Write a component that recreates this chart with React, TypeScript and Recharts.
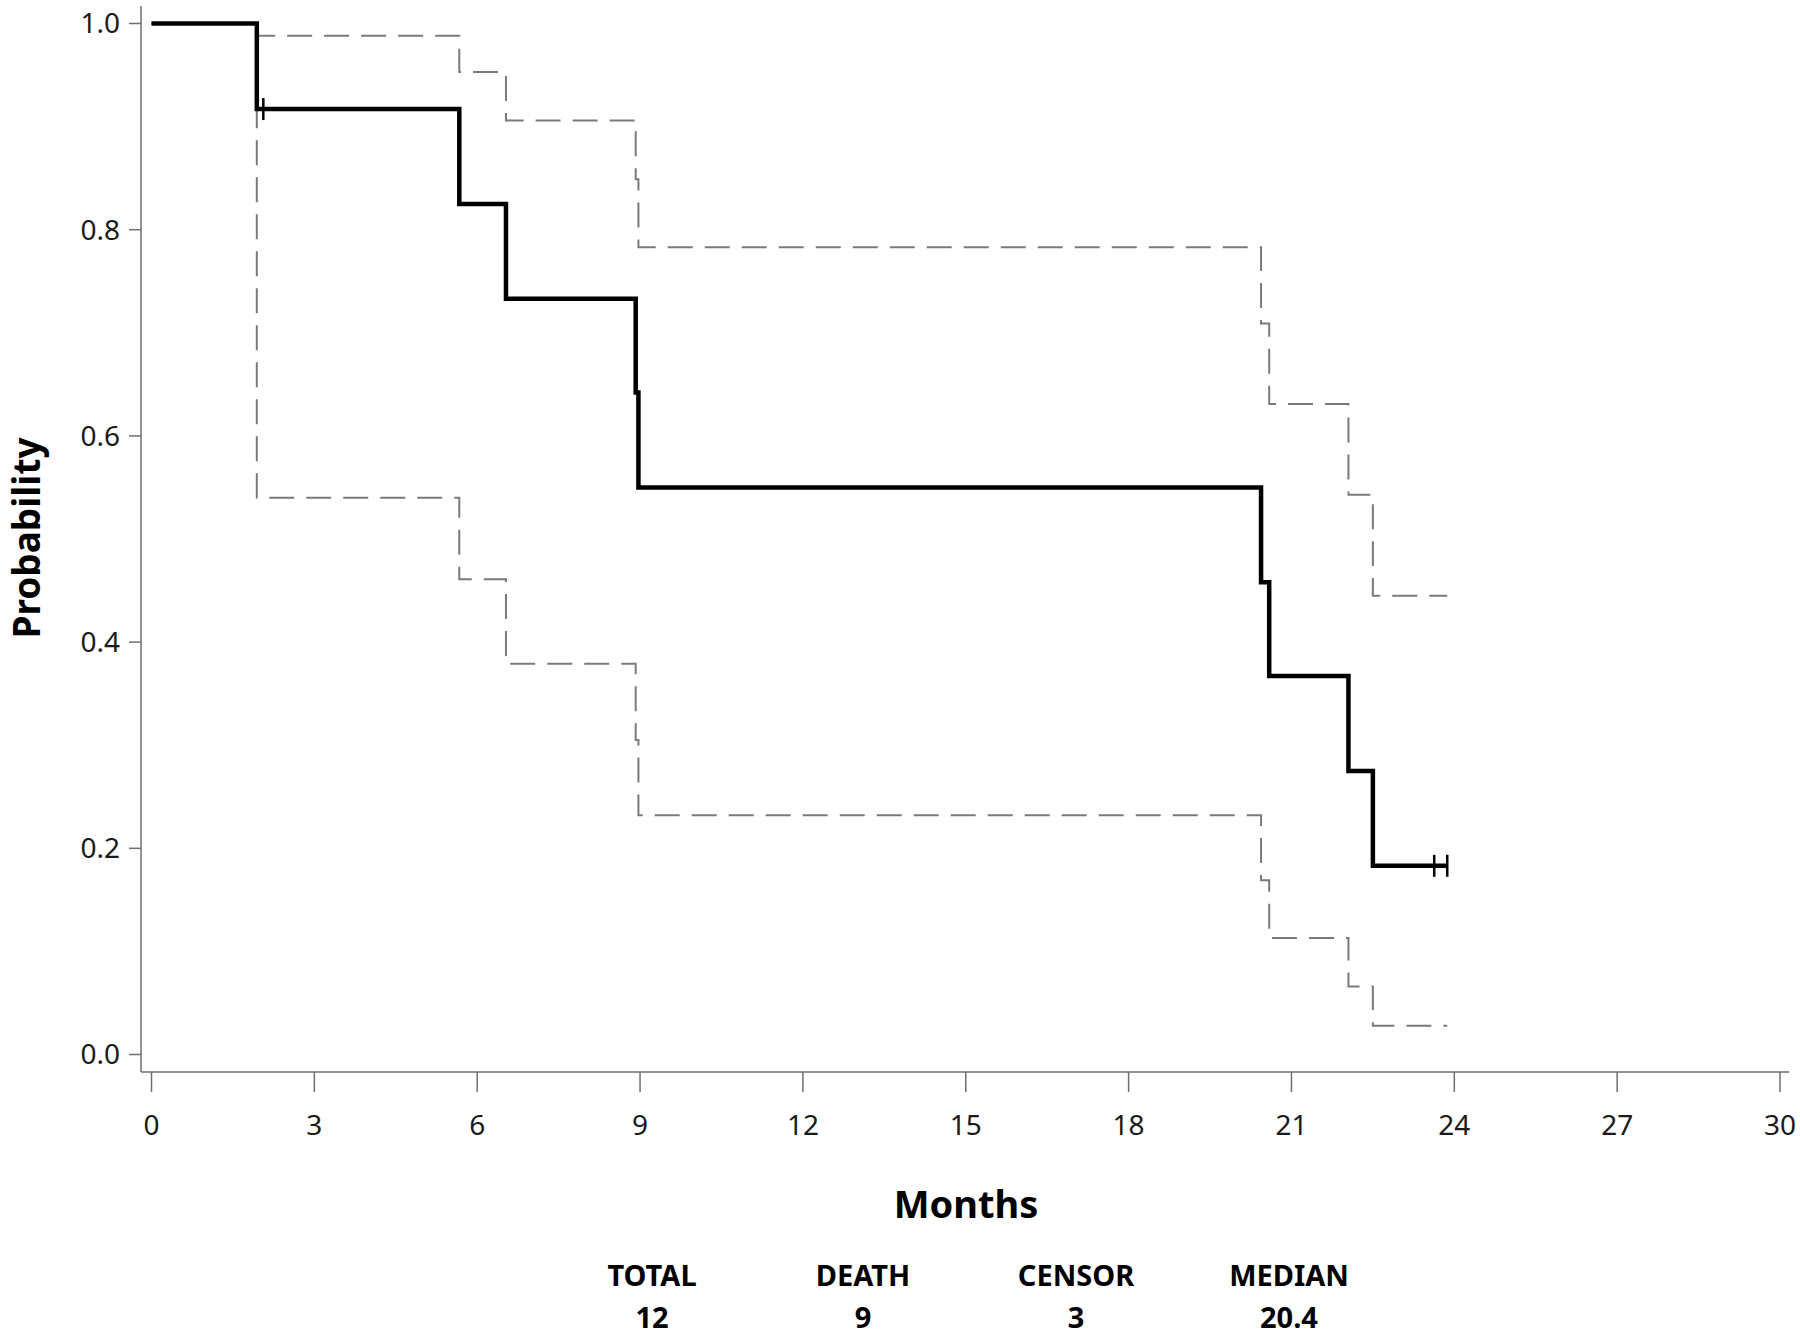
import React from "react";
import {
  ComposedChart,
  Line,
  Scatter,
  XAxis,
  YAxis,
} from "recharts";

// Kaplan-Meier step points (months) with survival and pointwise CI
const eventMonths = [0, 1.94, 5.67, 6.53, 8.92, 8.97, 20.44, 20.59, 22.05, 22.5, 23.87];
const survival = [1, 0.917, 0.825, 0.733, 0.642, 0.55, 0.458, 0.367, 0.275, 0.183, 0.183];
const upperCI = [1, 0.988, 0.953, 0.906, 0.849, 0.783, 0.709, 0.631, 0.543, 0.445, 0.445];
const lowerCI = [1, 0.54, 0.461, 0.379, 0.305, 0.232, 0.169, 0.113, 0.066, 0.028, 0.028];

// censored observations
const censorMonths = [2.06, 23.63, 23.87];
const censorSurvival = [0.917, 0.183, 0.183];

const xTicks = [0, 3, 6, 9, 12, 15, 18, 21, 24, 27, 30];
const yTicks = [0, 0.2, 0.4, 0.6, 0.8, 1.0];

const statLabels = ["TOTAL", "DEATH", "CENSOR", "MEDIAN"];
const statValues = ["12", "9", "3", "20.4"];

const FONT = "'Noto Sans', 'Open Sans', sans-serif";
const AXIS = "#6f6f6f";

const kmRows = eventMonths.map((t, i) => ({ t, s: survival[i] }));
const upperRows = eventMonths.map((t, i) => ({ t, s: upperCI[i] }));
const lowerRows = eventMonths.map((t, i) => ({ t, s: lowerCI[i] }));
const censorRows = censorMonths.map((t, i) => ({ t, s: censorSurvival[i] }));

function CensorMark(props: any) {
  const { cx, cy } = props;
  if (cx == null || cy == null) return null;
  return (
    <line x1={cx} y1={cy - 11} x2={cx} y2={cy + 11} stroke="#000" strokeWidth={2.5} />
  );
}

const tickStyle = { fontSize: 28, fill: "#1a1a1a", fontFamily: FONT };

export default function App() {
  const statX = [652, 863, 1076, 1289];
  return (
    <div
      style={{
        position: "absolute",
        left: 0,
        top: 0,
        width: 1800,
        height: 1335,
        background: "#fff",
        fontFamily: FONT,
      }}
    >
      <ComposedChart
        width={1800}
        height={1335}
        margin={{ top: 6, right: 11, bottom: 0, left: 0 }}
      >
        <XAxis
          type="number"
          dataKey="t"
          domain={[0, 30]}
          ticks={xTicks}
          padding={{ left: 10.5, right: 9 }}
          height={263}
          tickSize={20}
          tickMargin={23}
          tick={tickStyle}
          axisLine={{ stroke: AXIS, strokeWidth: 1.5 }}
          tickLine={{ stroke: AXIS, strokeWidth: 1.5 }}
          interval={0}
        />
        <XAxis
          xAxisId="top"
          orientation="top"
          type="number"
          domain={[0, 30]}
          height={0}
          tick={false}
          tickLine={false}
          axisLine={{ stroke: AXIS, strokeWidth: 1.5 }}
        />
        <YAxis
          type="number"
          domain={[0, 1]}
          ticks={yTicks}
          padding={{ top: 17.5, bottom: 17.5 }}
          width={141}
          tickSize={12}
          tickMargin={9}
          tick={tickStyle}
          tickFormatter={(v: number) => v.toFixed(1)}
          axisLine={{ stroke: AXIS, strokeWidth: 1.5 }}
          tickLine={{ stroke: AXIS, strokeWidth: 1.5 }}
          interval={0}
        />
        <YAxis
          yAxisId="right"
          orientation="right"
          type="number"
          domain={[0, 1]}
          width={0}
          tick={false}
          tickLine={false}
          axisLine={{ stroke: AXIS, strokeWidth: 1.5 }}
        />
        <Line
          data={upperRows}
          dataKey="s"
          type="stepAfter"
          stroke="#7a7a7a"
          strokeWidth={2}
          strokeDasharray="25 12"
          dot={false}
          activeDot={false}
          isAnimationActive={false}
        />
        <Line
          data={lowerRows}
          dataKey="s"
          type="stepAfter"
          stroke="#7a7a7a"
          strokeWidth={2}
          strokeDasharray="25 12"
          dot={false}
          activeDot={false}
          isAnimationActive={false}
        />
        <Line
          data={kmRows}
          dataKey="s"
          type="stepAfter"
          stroke="#000"
          strokeWidth={4.5}
          dot={false}
          activeDot={false}
          isAnimationActive={false}
        />
        <Scatter
          data={censorRows}
          dataKey="s"
          shape={<CensorMark />}
          isAnimationActive={false}
        />
      </ComposedChart>

      <svg
        width={1800}
        height={1335}
        style={{ position: "absolute", left: 0, top: 0, pointerEvents: "none" }}
        fontFamily={FONT}
      >
        <text
          x={40}
          y={538}
          textAnchor="middle"
          fontSize={37}
          fontWeight={700}
          fill="#000"
          transform="rotate(-90 40 538)"
        >
          Probability
        </text>
        <text x={966} y={1218} textAnchor="middle" fontSize={38} fontWeight={700} fill="#000">
          Months
        </text>
        {statLabels.map((lab, i) => (
          <text key={lab} x={statX[i]} y={1286} textAnchor="middle" fontSize={29} fontWeight={700} fill="#000">
            {lab}
          </text>
        ))}
        {statValues.map((val, i) => (
          <text key={i} x={statX[i]} y={1328} textAnchor="middle" fontSize={29} fontWeight={700} fill="#000">
            {val}
          </text>
        ))}
      </svg>
    </div>
  );
}
